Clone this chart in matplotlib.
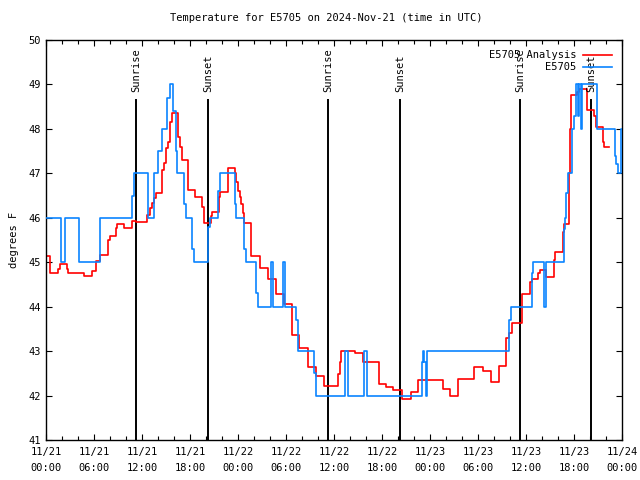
import matplotlib
matplotlib.use('Agg')
import matplotlib.pyplot as plt

# hours since 2024-11-21 00:00 UTC, values in degrees F (step data)
obs_hours = [0, 1.85, 2.35, 4.1, 6.75, 10.8, 10.95, 12.8, 13.5, 14.0, 14.5, 15.1, 15.5,
             15.9, 16.2, 16.4, 17.2, 17.5, 18.3, 18.45, 20.3, 20.5, 21.5, 21.75, 23.6,
             23.8, 24.75, 25.0, 26.3, 26.5, 28.1, 28.4, 29.6, 29.9, 31.3, 31.5, 33.5,
             33.7, 37.4, 37.7, 39.8, 40.1, 46.95, 47.1, 47.3, 47.5, 47.6, 57.9, 58.1,
             60.7, 60.9, 62.2, 62.45, 64.7, 64.85, 65.0, 65.2, 65.7, 66.0, 66.2, 66.45,
             66.65, 66.85, 67.05, 68.85, 71.1, 71.3, 71.5, 71.85, 72.0]
obs_temp = [46, 45, 46, 45, 46, 46.5, 47, 46, 47, 47.5, 48, 48.7, 49,
            48.4, 47.5, 47, 46.3, 46, 45.3, 45, 45.8, 46, 46.6, 47, 46.3,
            46, 45.3, 45, 44.3, 44, 45, 44, 45, 44, 43.7, 43, 42.5,
            42, 43, 42, 43, 42, 42.75, 43, 42.75, 42, 43, 43.7, 44,
            44.75, 45, 44, 45, 45.75, 46, 46.55, 47, 48, 48.3, 49, 48.3,
            49, 48, 49, 48, 47.4, 47.2, 47, 48, 48]

ana_hours = [0, 0.55, 1.55, 1.8, 2.6, 2.8, 4.7, 5.7, 6.3, 6.75, 7.8, 8.0, 8.75, 8.9,
             9.7, 10.7, 11.3, 12.6, 13.0, 13.2, 13.5, 13.8, 14.5, 14.7, 15.0, 15.2,
             15.5, 15.7, 16.5, 16.7, 16.96, 17.7, 17.8, 18.6, 19.5, 19.7, 20.6, 20.75,
             21.6, 21.8, 22.7, 22.8, 23.6, 23.8, 24.0, 24.2, 24.4, 24.6, 24.8, 25.6,
             26.7, 27.7, 28.7, 29.8, 30.8, 31.6, 32.7, 33.7, 34.8, 36.5, 36.7, 36.9,
             38.6, 39.6, 41.6, 42.5, 43.4, 44.5, 45.6, 46.5, 49.6, 50.5, 51.5, 53.5,
             54.6, 55.6, 56.6, 57.5, 57.9, 58.3, 59.5, 60.5, 60.7, 61.5, 61.7, 62.5,
             63.5, 63.6, 64.6, 64.7, 65.4, 65.5, 65.6, 66.4, 66.6, 67.6, 68.5, 68.7,
             69.6, 69.7, 70.4]
ana_temp = [45.15, 44.75, 44.85, 44.95, 44.85, 44.75, 44.7, 44.8, 45.03, 45.16, 45.5, 45.6, 45.78, 45.86,
            45.78, 45.93, 45.9, 46.06, 46.21, 46.33, 46.44, 46.55, 47.08, 47.23, 47.56, 47.71,
            48.16, 48.35, 47.82, 47.6, 47.31, 47.04, 46.63, 46.47, 46.25, 45.88, 46.03, 46.12,
            46.47, 46.59, 47.0, 47.11, 47.0, 46.8, 46.6, 46.47, 46.3, 46.1, 45.88, 45.13,
            44.86, 44.62, 44.29, 44.06, 43.36, 43.06, 42.64, 42.43, 42.21, 42.48, 42.75, 43.01,
            42.95, 42.75, 42.26, 42.2, 42.13, 41.92, 42.09, 42.35, 42.15, 41.98, 42.38, 42.65,
            42.56, 42.3, 42.66, 43.29, 43.4, 43.63, 44.29, 44.55, 44.62, 44.75, 44.83, 44.66,
            45.05, 45.22, 45.69, 45.85, 47.0, 48.0, 48.76, 48.83, 48.89, 48.43, 48.29, 48.04,
            47.71, 47.59, 47.59]

sun_hours = [11.25, 20.25, 35.25, 44.25, 59.25, 68.1]
sun_names = ['Sunrise', 'Sunset', 'Sunrise', 'Sunset', 'Sunrise', 'Sunset']

tick_hours = list(range(0, 73, 6))
tick_labels = ['11/21\n00:00', '11/21\n06:00', '11/21\n12:00', '11/21\n18:00',
               '11/22\n00:00', '11/22\n06:00', '11/22\n12:00', '11/22\n18:00',
               '11/23\n00:00', '11/23\n06:00', '11/23\n12:00', '11/23\n18:00',
               '11/24\n00:00']

plt.rcParams['font.family'] = ['DejaVu Sans Mono']
fs = 7.5

fig = plt.figure(figsize=(6.4, 4.8), dpi=100)
ax = fig.add_axes([46 / 640, 40 / 480, 576 / 640, 400 / 480])

ax.vlines(sun_hours, 41, 48.68, colors='black', linewidth=1.4, zorder=1)
for h, name in zip(sun_hours, sun_names):
    ax.text(h, 48.83, name, rotation=90, ha='center', va='bottom', fontsize=fs)

ax.plot(ana_hours, ana_temp, drawstyle='steps-post', color='#ff0000', lw=1.2,
        label='E5705 Analysis', zorder=2)
ax.plot(obs_hours, obs_temp, drawstyle='steps-post', color='#0a84ff', lw=1.2,
        label='E5705', zorder=3)

ax.set_xlim(0, 72)
ax.set_ylim(41, 50)
ax.set_xticks(tick_hours)
ax.set_xticklabels(tick_labels, fontsize=fs, linespacing=1.7)
ax.set_xticks(range(0, 73, 2), minor=True)
ax.set_yticks(range(41, 51))
ax.tick_params(axis='both', which='both', direction='in', top=True, right=True)
ax.tick_params(axis='both', which='major', length=4, width=0.8, labelsize=fs)
ax.tick_params(axis='x', which='major', pad=5)
ax.tick_params(axis='x', which='minor', length=3, width=0.8)
for s in ax.spines.values():
    s.set_linewidth(1.0)

ax.set_ylabel('degrees F', fontsize=fs, labelpad=7)
fig.suptitle('Temperature for E5705 on 2024-Nov-21 (time in UTC)', x=0.509,
             y=1 - 13 / 480, va='top', fontsize=fs)

ax.legend(loc='upper right', frameon=False, markerfirst=False, fontsize=fs,
          handlelength=2.7, handletextpad=0.7, labelspacing=0.2,
          borderaxespad=1.0, borderpad=0.0)

fig.savefig('out.png', dpi=100)
